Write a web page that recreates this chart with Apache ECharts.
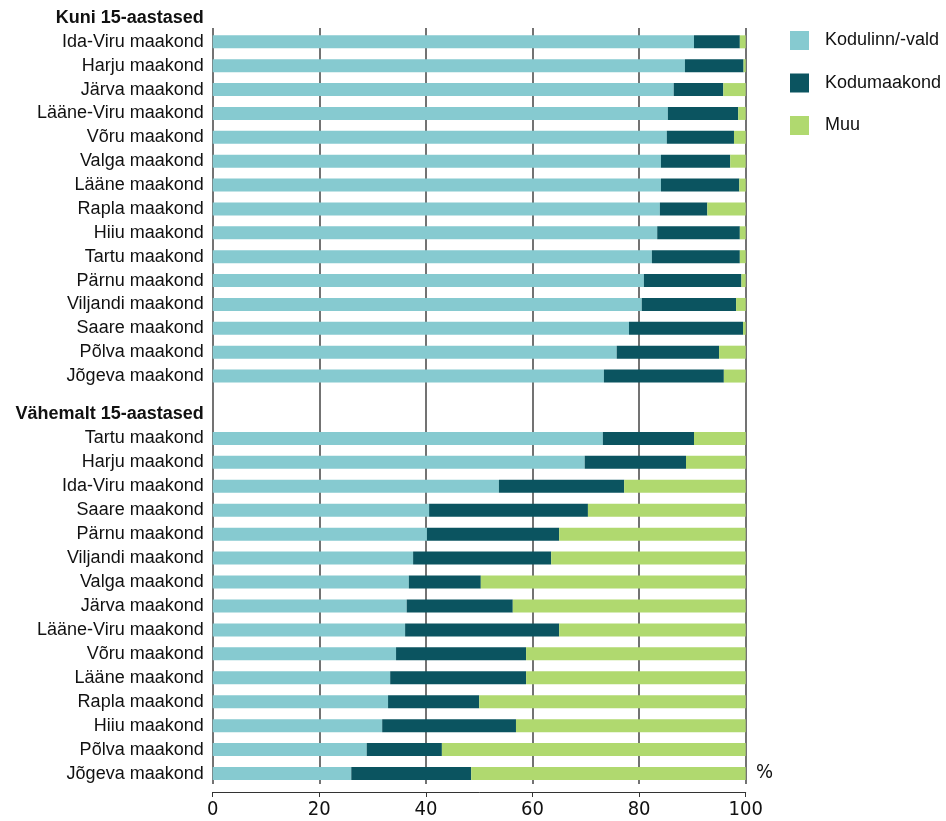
<!DOCTYPE html>
<html>
<head>
<meta charset="utf-8">
<script src="https://cdn.jsdelivr.net/npm/echarts@6/dist/echarts.min.js"></script>
<style>html,body{margin:0;padding:0;background:#fff;}#c{width:946px;height:821px;}</style>
</head>
<body>
<div id="c"></div>
<script>
var heading1 = 'Kuni 15-aastased';
var heading2 = 'Vähemalt 15-aastased';
var categories1 = ['Ida-Viru maakond','Harju maakond','Järva maakond','Lääne-Viru maakond','Võru maakond','Valga maakond','Lääne maakond','Rapla maakond','Hiiu maakond','Tartu maakond','Pärnu maakond','Viljandi maakond','Saare maakond','Põlva maakond','Jõgeva maakond'];
var home1   = [90.3, 88.6, 86.5, 85.4, 85.2, 84.1, 84.1, 83.9, 83.4, 82.4, 80.9, 80.5, 78.1, 75.8, 73.4];
var county1 = [8.6, 11.0, 9.3, 13.2, 12.6, 13.0, 14.7, 8.9, 15.5, 16.5, 18.3, 17.7, 21.4, 19.2, 22.5];
var other1  = [1.1, 0.4, 4.2, 1.4, 2.2, 2.9, 1.2, 7.2, 1.1, 1.1, 0.8, 1.8, 0.5, 5.0, 4.1];
var categories2 = ['Tartu maakond','Harju maakond','Ida-Viru maakond','Saare maakond','Pärnu maakond','Viljandi maakond','Valga maakond','Järva maakond','Lääne-Viru maakond','Võru maakond','Lääne maakond','Rapla maakond','Hiiu maakond','Põlva maakond','Jõgeva maakond'];
var home2   = [73.2, 69.8, 53.7, 40.6, 40.2, 37.6, 36.8, 36.4, 36.1, 34.4, 33.3, 32.9, 31.8, 28.9, 26.0];
var county2 = [17.1, 19.0, 23.5, 29.8, 24.8, 25.9, 13.5, 19.9, 28.9, 24.4, 25.5, 17.1, 25.1, 14.1, 22.5];
var other2  = [9.7, 11.2, 22.8, 29.6, 35.0, 36.5, 49.7, 43.7, 35.0, 41.2, 41.2, 50.0, 43.1, 57.0, 51.5];
var seriesNames = ['Kodulinn/-vald', 'Kodumaakond', 'Muu'];
var colors = ['#86CAD0', '#0B5460', '#B0D96F'];
var tickValues = [0, 20, 40, 60, 80, 100];
var unit = '%';

var FONT = "'Liberation Sans', Arial, sans-serif";
var NARROW = "'Liberation Sans Narrow', 'Arial Narrow', 'DejaVu Sans Condensed', sans-serif";

function withHead(h, arr) { return [null].concat(arr); }

var chart = echarts.init(document.getElementById('c'));

function catAxis(gridIndex, heading, cats) {
  return {
    type: 'category', gridIndex: gridIndex, inverse: true,
    data: [heading].concat(cats),
    axisLine: {show: false}, axisTick: {show: false}, splitLine: {show: false},
    axisLabel: {
      margin: 9, fontSize: 18, color: '#111', fontFamily: FONT,
      formatter: function (v, i) { return i === 0 ? '{h|' + v + '}' : v; },
      rich: {h: {fontWeight: 'bold', fontSize: 18, color: '#111', fontFamily: FONT}}
    }
  };
}
function hiddenX(gridIndex) {
  return {type: 'value', gridIndex: gridIndex, min: 0, max: 100, show: false};
}
function mk(name, idx, data, gi, stack) {
  return {
    name: name, type: 'bar', stack: stack, xAxisIndex: gi, yAxisIndex: gi,
    barWidth: 13, data: data, itemStyle: {color: colors[idx]}, z: 3
  };
}

chart.setOption({
  animation: false,
  backgroundColor: '#fff',
  textStyle: {fontFamily: FONT},
  grid: [
    {left: 212.7, width: 533, top: 6, height: 382},
    {left: 212.7, width: 533, top: 402.5, height: 383},
    {left: 212.7, width: 533, top: 28, bottom: 37}
  ],
  xAxis: [
    hiddenX(0), hiddenX(1),
    {
      type: 'value', gridIndex: 2, min: 0, max: 100, interval: 20, offset: 8,
      axisLine: {show: true, lineStyle: {color: '#333', width: 1}},
      axisTick: {show: true, length: 5, lineStyle: {color: '#333'}},
      axisLabel: {fontSize: 20, color: '#111', margin: 8, fontFamily: NARROW,
        formatter: function (v) { return tickValues.indexOf(v) >= 0 ? String(v) : ''; }},
      splitLine: {show: true, lineStyle: {color: '#444', width: 1.5}}
    }
  ],
  yAxis: [
    catAxis(0, heading1, categories1),
    catAxis(1, heading2, categories2),
    {type: 'category', gridIndex: 2, show: false, data: ['']}
  ],
  legend: {
    orient: 'vertical', left: 790, top: 31, padding: 0, itemGap: 23.5,
    itemWidth: 19, itemHeight: 19, icon: 'rect',
    data: seriesNames,
    textStyle: {fontSize: 18, color: '#111', fontFamily: FONT, padding: [0, 0, 0, 11]}
  },
  series: [
    mk(seriesNames[0], 0, withHead(heading1, home1), 0, 'a'),
    mk(seriesNames[1], 1, withHead(heading1, county1), 0, 'a'),
    mk(seriesNames[2], 2, withHead(heading1, other1), 0, 'a'),
    mk(seriesNames[0], 0, withHead(heading2, home2), 1, 'b'),
    mk(seriesNames[1], 1, withHead(heading2, county2), 1, 'b'),
    mk(seriesNames[2], 2, withHead(heading2, other2), 1, 'b')
  ],
  graphic: [
    {type: 'text', left: 756, top: 763, style: {text: unit, fontSize: 20, fill: '#111', fontFamily: NARROW}}
  ]
});
</script>
</body>
</html>
